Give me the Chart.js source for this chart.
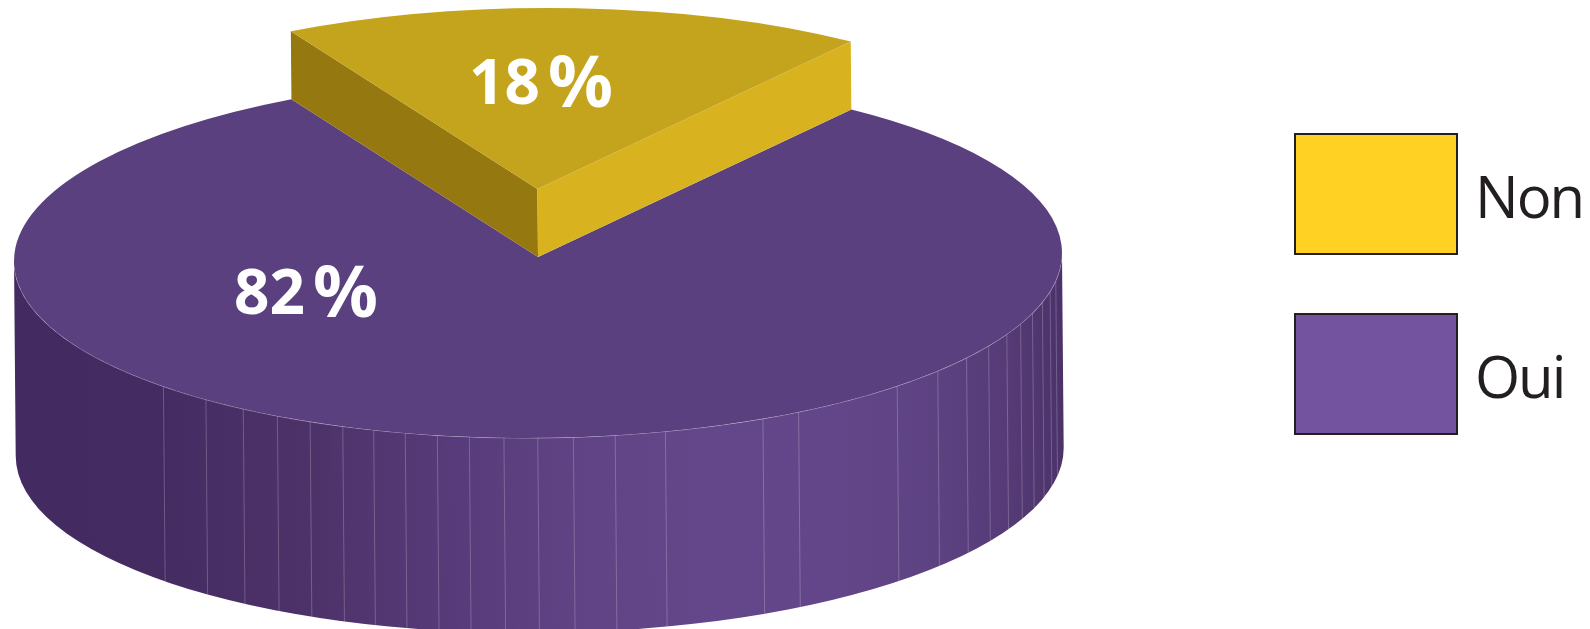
<!DOCTYPE html>
<html lang="fr">
<head>
<meta charset="utf-8">
<title>Non / Oui</title>
<script src="https://cdn.jsdelivr.net/npm/chart.js@4"></script>
<style>
  html, body { margin: 0; background: #fff; }
  canvas { display: block; }
</style>
</head>
<body>
<canvas id="chart" width="1590" height="629"></canvas>
<script>
const categories = ['Non', 'Oui'];
const values = [18, 82];
const sliceColors = ['#c4a41c', '#5b4080'];
const legendColors = ['#ffd122', '#73529f'];

// seams on the outer wall, degrees either side of the front of the pie
const wallSeams = [-45.8, -39.5, -34.4, -30, -25.95, -22.05, -18.45, -14.85, -11.25, -7.7, -3.9, -0.2, 3.7,
  8.3, 13.9, 25.25, 29.65, 43.1, 49.55, 54.7, 59.15, 63.3, 66.9, 70.5, 74.1, 77.6, 81];

const pie3d = {
  cx: 538, cy: 257, ry: 181,
  tilt: -0.5 * Math.PI / 180,
  depth: 195,
  lift: 68
};

function pieFrame(ctx) {
  ctx.translate(pie3d.cx, pie3d.cy);
  ctx.rotate(pie3d.tilt);
}

function drawArc(ctx, arc, dy) {
  ctx.save();
  pieFrame(ctx);
  ctx.translate(0, dy);
  ctx.scale(1, pie3d.ry / arc.outerRadius);
  ctx.translate(-arc.x, -arc.y);
  arc.draw(ctx);
  ctx.restore();
}

function drawOuterWall(ctx, arc) {
  const r = arc.outerRadius, ry = pie3d.ry, h = pie3d.depth;
  ctx.save();
  pieFrame(ctx);
  const g = ctx.createLinearGradient(-r, 0, r, 0);
  g.addColorStop(0, '#432b62');
  g.addColorStop(0.14, '#442c63');
  g.addColorStop(0.28, '#4d3269');
  g.addColorStop(0.42, '#573b7a');
  g.addColorStop(0.55, '#604485');
  g.addColorStop(0.66, '#64478a');
  g.addColorStop(0.78, '#634689');
  g.addColorStop(0.88, '#5d4282');
  g.addColorStop(0.95, '#553a76');
  g.addColorStop(1, '#4c3269');
  ctx.beginPath();
  ctx.ellipse(0, 0, r, ry, 0, 0, Math.PI);
  ctx.ellipse(0, h, r, ry, 0, Math.PI, 0, true);
  ctx.closePath();
  ctx.fillStyle = g;
  ctx.fill();

  ctx.strokeStyle = 'rgba(255,255,255,0.22)';
  ctx.lineWidth = 1;
  wallSeams.forEach(deg => {
    const a = deg * Math.PI / 180;
    const x = r * Math.sin(a), y = ry * Math.cos(a);
    ctx.beginPath();
    ctx.moveTo(x, y);
    ctx.lineTo(x, y + h);
    ctx.stroke();
  });

  ctx.strokeStyle = 'rgba(255,255,255,0.4)';
  ctx.beginPath();
  ctx.ellipse(0, 0, r, ry, 0, 0, Math.PI);
  ctx.stroke();
  ctx.restore();
}

function drawLiftedSides(ctx, arc) {
  const r = arc.outerRadius, ry = pie3d.ry, lift = pie3d.lift;
  const side = (angle, color) => {
    const x = r * Math.cos(angle), y = ry * Math.sin(angle);
    ctx.beginPath();
    ctx.moveTo(0, -lift);
    ctx.lineTo(x, y - lift);
    ctx.lineTo(x, y);
    ctx.lineTo(0, 0);
    ctx.closePath();
    ctx.fillStyle = color;
    ctx.fill();
  };
  ctx.save();
  pieFrame(ctx);
  side(arc.startAngle, '#967811');
  side(arc.endAngle, '#d9b31f');
  ctx.restore();
}

// digits and the wider % sign are set at different sizes
function drawValue(ctx, value, x, y) {
  const digits = String(value);
  ctx.font = 'bold 62px "Noto Sans"';
  ctx.fillText(digits, x, y);
  const w = ctx.measureText(digits).width;
  ctx.font = 'bold 72px "Noto Sans"';
  ctx.fillText('%', x + w + 8, y + 3);
}

function drawLegend(ctx) {
  ctx.save();
  ctx.textBaseline = 'alphabetic';
  ctx.font = '58px "Open Sans"';
  ctx.letterSpacing = '-2px';
  categories.forEach((name, i) => {
    const top = 134 + i * 180;
    ctx.fillStyle = legendColors[i];
    ctx.strokeStyle = '#231f20';
    ctx.lineWidth = 2;
    ctx.fillRect(1295, top, 162, 120);
    ctx.strokeRect(1295, top, 162, 120);
    ctx.fillStyle = '#231f20';
    ctx.fillText(name, 1475, top + 84);
  });
  ctx.restore();
}

const layeredPie = {
  id: 'layeredPie',
  beforeDatasetDraw(chart) {
    const ctx = chart.ctx;
    const [non, oui] = chart.getDatasetMeta(0).data;
    drawOuterWall(ctx, oui);
    drawArc(ctx, oui, 0);
    drawLiftedSides(ctx, non);
    drawArc(ctx, non, -pie3d.lift);
    return false;
  },
  afterDatasetsDraw(chart) {
    const ctx = chart.ctx;
    ctx.save();
    ctx.fillStyle = '#fff';
    ctx.textBaseline = 'alphabetic';
    drawValue(ctx, values[0], 469, 104);
    drawValue(ctx, values[1], 234, 314);
    ctx.restore();
    drawLegend(ctx);
  }
};

new Chart(document.getElementById('chart'), {
  type: 'pie',
  data: {
    labels: categories,
    datasets: [{
      data: values,
      backgroundColor: sliceColors,
      borderWidth: 0,
      clip: false
    }]
  },
  options: {
    responsive: false,
    animation: false,
    radius: 524,
    rotation: -27.9,
    plugins: {
      tooltip: { enabled: false },
      legend: { display: false }
    }
  },
  plugins: [layeredPie]
});
</script>
</body>
</html>
